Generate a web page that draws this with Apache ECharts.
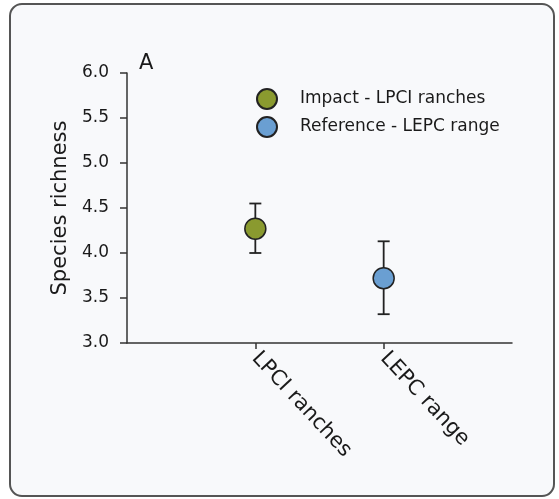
<!DOCTYPE html>
<html>
<head>
<meta charset="utf-8">
<script src="https://cdn.jsdelivr.net/npm/echarts@6/dist/echarts.min.js"></script>
<style>html,body{margin:0;padding:0;background:#fff}#c{width:559px;height:499px}</style>
</head>
<body>
<div id="c"></div>
<script>
const categories = [' ', 'LPCI ranches', 'LEPC range', '  '];
const seriesNames = ['Impact - LPCI ranches', 'Reference - LEPC range'];
const means = [4.27, 3.72];
const lowers = [4.0, 3.32];
const uppers = [4.55, 4.13];
const yTicks = [3.0, 3.5, 4.0, 4.5, 5.0, 5.5, 6.0];
const colors = ['#8a9a2f', '#6a9fd2'];

const chart = echarts.init(document.getElementById('c'));
const font = 'DejaVu Sans';

const errData = [1, 2].map((ci, i) => [categories[ci], lowers[i], uppers[i]]);

const series = [
  {
    type: 'custom',
    name: 'err',
    data: errData,
    z: 1,
    renderItem: function (params, api) {
      const x = api.value(0);
      const lo = api.coord([x, api.value(1)]);
      const hi = api.coord([x, api.value(2)]);
      const w = 6;
      const st = { stroke: '#222', lineWidth: 1.8 };
      return {
        type: 'group',
        children: [
          { type: 'line', shape: { x1: lo[0], y1: lo[1], x2: hi[0], y2: hi[1] }, style: st },
          { type: 'line', shape: { x1: lo[0] - w, y1: lo[1], x2: lo[0] + w, y2: lo[1] }, style: st },
          { type: 'line', shape: { x1: hi[0] - w, y1: hi[1], x2: hi[0] + w, y2: hi[1] }, style: st }
        ]
      };
    }
  }
];
seriesNames.forEach((n, i) => {
  series.push({
    type: 'scatter',
    name: n,
    z: 3,
    symbol: 'circle',
    symbolSize: 21,
    itemStyle: { color: colors[i], borderColor: '#222', borderWidth: 1.5, opacity: 1 },
    data: [[categories[i + 1], means[i]]]
  });
});

chart.setOption({
  animation: false,
  graphic: [{
    type: 'rect', z: -10, silent: true,
    shape: { x: 10, y: 4, width: 544, height: 492, r: 12 },
    style: { fill: '#f8f9fb', stroke: '#555', lineWidth: 2 }
  }],
  title: {
    text: 'A', left: 134, top: 48,
    textStyle: { fontFamily: font, fontSize: 21, fontWeight: 'normal', color: '#1a1a1a' }
  },
  legend: {
    data: seriesNames,
    orient: 'vertical',
    left: 251, top: 83,
    itemWidth: 50, itemHeight: 20, itemGap: 6,
    icon: 'circle',
    textStyle: { fontFamily: font, fontSize: 17, color: '#1a1a1a', padding: [0, 0, 0, 3] }
  },
  grid: { left: 127, top: 73, right: 47, bottom: 156, containLabel: false },
  xAxis: {
    type: 'category',
    data: categories,
    boundaryGap: false,
    axisLine: { lineStyle: { color: '#333', width: 1.5 } },
    axisTick: { length: 6, interval: (idx, v) => v.trim() !== '', lineStyle: { color: '#333', width: 1.5 } },
    axisLabel: {
      interval: (idx, v) => v.trim() !== '',
      rotate: -47, margin: 12,
      fontFamily: font, fontSize: 21, color: '#1a1a1a'
    },
    splitLine: { show: false }
  },
  yAxis: {
    type: 'value',
    min: yTicks[0], max: yTicks[yTicks.length - 1], interval: 0.5,
    name: 'Species richness',
    nameLocation: 'middle', nameGap: 56,
    nameTextStyle: { fontFamily: font, fontSize: 21, color: '#1a1a1a' },
    axisLine: { show: true, lineStyle: { color: '#333', width: 1.5 } },
    axisTick: { show: true, inside: false, length: 7, lineStyle: { color: '#333', width: 1.5 } },
    axisLabel: { margin: 18, fontFamily: font, fontSize: 17, color: '#1a1a1a', formatter: v => v.toFixed(1) },
    splitLine: { show: false }
  },
  series: series
});
</script>
</body>
</html>
